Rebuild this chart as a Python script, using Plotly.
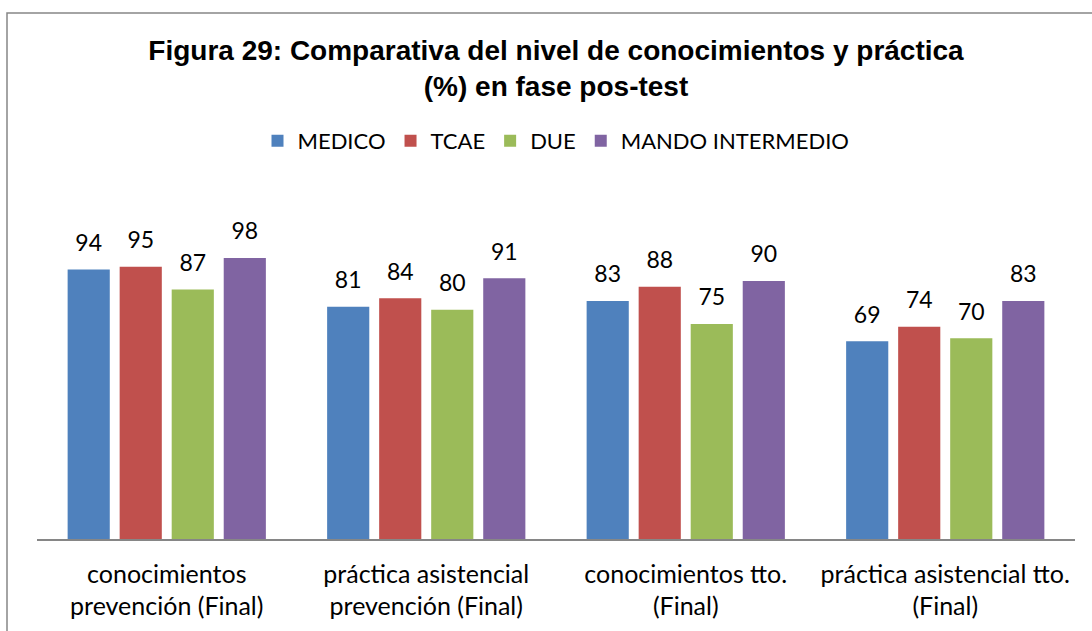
import plotly.graph_objects as go

categories = [
    "conocimientos<br>prevención (Final)",
    "práctica asistencial<br>prevención (Final)",
    "conocimientos tto.<br>(Final)",
    "práctica asistencial tto.<br>(Final)",
]
medico = [94, 81, 83, 69]
tcae = [95, 84, 88, 74]
due = [87, 80, 75, 70]
mando = [98, 91, 90, 83]

series = [
    ("MEDICO", medico, "#4F81BD"),
    ("TCAE", tcae, "#C0504D"),
    ("DUE", due, "#9BBB59"),
    ("MANDO INTERMEDIO", mando, "#8064A2"),
]

W, H = 1092, 631
ML, MR, MT, MB = 37, 17, 195, 92
FONT = "Lato"

fig = go.Figure()
for name, vals, color in series:
    fig.add_trace(
        go.Bar(
            x=categories,
            y=vals,
            name=name,
            marker={"color": color, "line": {"width": 0}},
            offsetgroup=name,
            hoverinfo="skip",
        )
    )
# value labels, grouped like the bars
for name, vals, color in series:
    fig.add_trace(
        go.Scatter(
            x=categories,
            y=vals,
            mode="markers+text",
            text=[str(v) for v in vals],
            textposition="top center",
            textfont={"family": FONT, "size": 23, "color": "#000000"},
            marker={"size": 19, "opacity": 0},
            offsetgroup=name,
            showlegend=False,
            hoverinfo="skip",
            cliponaxis=False,
        )
    )

pw = W - ML - MR
ph = H - MT - MB
fig.add_shape(
    type="rect",
    xref="paper",
    yref="paper",
    x0=(7 - ML) / pw,
    x1=(W + 20 - ML) / pw,
    y0=-(MB + 20) / ph,
    y1=1 + (MT - 13) / ph,
    line={"color": "#868686", "width": 1.5},
    layer="below",
)

fig.update_layout(
    width=W,
    height=H,
    margin={"l": ML, "r": MR, "t": MT, "b": MB},
    paper_bgcolor="white",
    plot_bgcolor="white",
    barmode="group",
    scattermode="group",
    bargap=0.198,
    bargroupgap=0.19,
    scattergap=0.198,
    title={
        "text": "<b>Figura 29: Comparativa del nivel de conocimientos y práctica<br>(%) en fase pos-test</b>",
        "font": {"family": "Liberation Sans", "size": 28, "color": "#000000"},
        "x": 0.5,
        "xref": "paper",
        "y": 1 - 60 / H,
        "yref": "container",
        "yanchor": "top",
    },
    legend={
        "orientation": "h",
        "x": 0.5,
        "xanchor": "center",
        "y": 1 + (MT - 141) / ph,
        "yanchor": "middle",
        "font": {"family": FONT, "size": 22, "color": "#000000"},
        "bgcolor": "rgba(0,0,0,0)",
    },
    xaxis={
        "showline": True,
        "linecolor": "#868686",
        "linewidth": 1.5,
        "ticks": "",
        "showgrid": False,
        "automargin": False,
        "ticklabelstandoff": 12,
        "tickfont": {"family": FONT, "size": 25, "color": "#000000"},
    },
    yaxis={"range": [0, 120], "visible": False, "automargin": False},
    font={"family": FONT},
)

fig.write_html(
    "out.html",
    config={"displayModeBar": False},
    post_script="document.body.style.margin='0';",
)
